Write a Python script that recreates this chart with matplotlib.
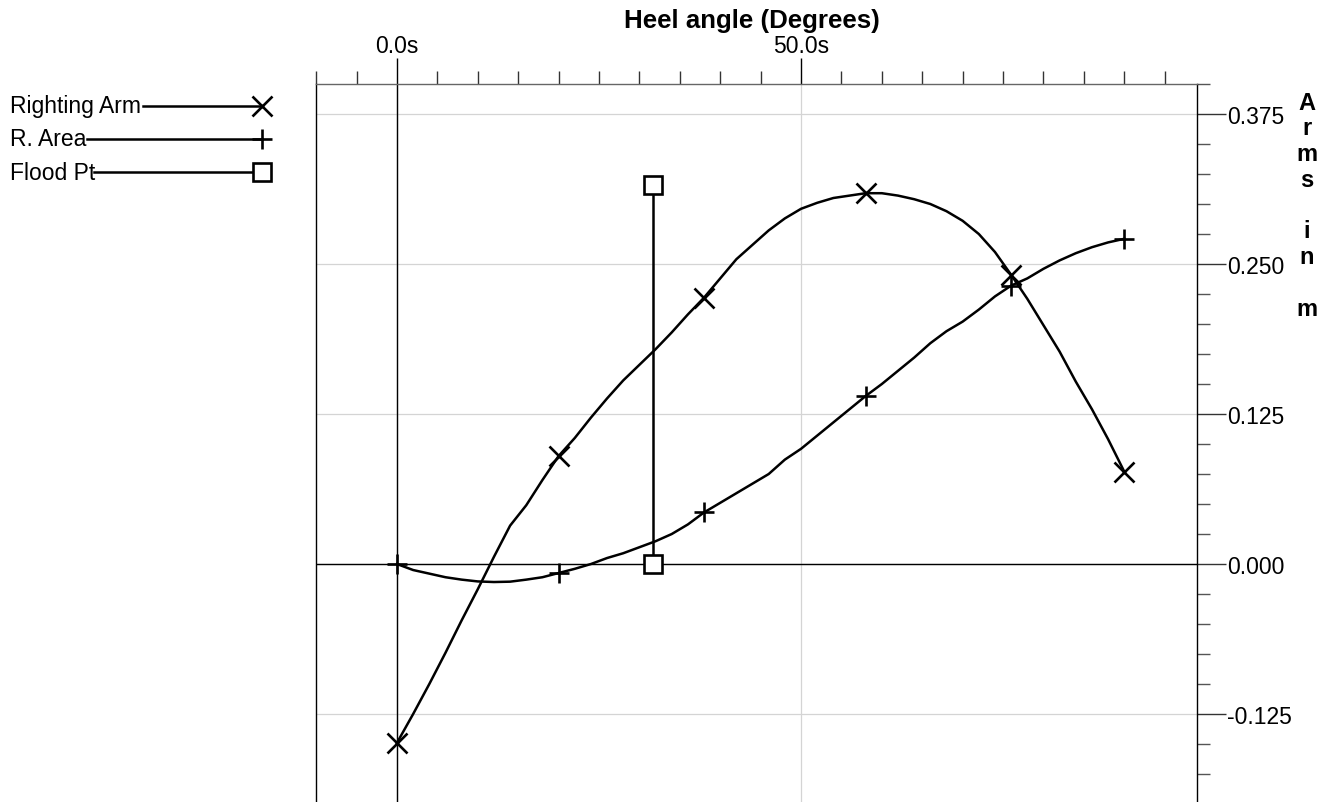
import matplotlib
matplotlib.use("Agg")
import matplotlib.pyplot as plt
from matplotlib.ticker import MultipleLocator, FormatStrFormatter

plt.rcParams['font.family'] = ['Liberation Sans', 'DejaVu Sans']
plt.rcParams['axes.unicode_minus'] = False

# heel angle and curves
heel = [0, 2, 4, 6, 8, 10, 12, 14, 16, 18, 20, 22, 24, 26, 28, 30, 32, 34, 36, 38,
        40, 42, 44, 46, 48, 50, 52, 54, 56, 58, 60, 62, 64, 66, 68, 70, 72, 74, 76,
        78, 80, 82, 84, 86, 88, 90]
righting_arm = [-0.149, -0.125, -0.100, -0.074, -0.047, -0.021, 0.006, 0.032, 0.049,
                0.070, 0.090, 0.105, 0.122, 0.138, 0.153, 0.166, 0.179, 0.193, 0.208,
                0.222, 0.238, 0.254, 0.266, 0.278, 0.288, 0.296, 0.301, 0.305, 0.307,
                0.309, 0.309, 0.307, 0.304, 0.300, 0.294, 0.286, 0.275, 0.260, 0.241,
                0.221, 0.199, 0.177, 0.152, 0.129, 0.104, 0.077]
r_area = [0.000, -0.005, -0.008, -0.011, -0.013, -0.0145, -0.015, -0.0147, -0.013,
          -0.011, -0.0075, -0.004, 0.000, 0.005, 0.009, 0.014, 0.019, 0.025, 0.033,
          0.043, 0.051, 0.059, 0.067, 0.075, 0.087, 0.096, 0.107, 0.118, 0.129, 0.140,
          0.150, 0.161, 0.172, 0.184, 0.194, 0.202, 0.212, 0.223, 0.232, 0.238, 0.246,
          0.253, 0.259, 0.264, 0.268, 0.271]
marker_idx = [0, 10, 19, 29, 38, 45]
flood_x = [31.7, 31.7]
flood_y = [0.0, 0.316]

legend_names = ['Righting Arm', 'R. Area', 'Flood Pt']
ylabel_chars = list('Arms in m')

FS = 16.5
LW = 1.8
W, H = 1334, 803
fig = plt.figure(figsize=(W / 100, H / 100), dpi=100)

ax = fig.add_axes([316 / W, 0, 881 / W, 1 - 85 / H])
ax.set_xlim(-10.02, 99.0)
ax.set_ylim(-0.1983, 0.4)

ax.grid(True, which='major', color='#d4d4d4', lw=0.9, zorder=0)
ax.axhline(0, color='black', lw=1.0, zorder=2)
ax.axvline(0, color='black', lw=1.0, zorder=2)

ax.plot(heel, righting_arm, color='black', lw=LW, marker='x', ms=15, mew=1.9,
        markevery=marker_idx, zorder=3)
ax.plot(heel, r_area, color='black', lw=LW, marker='+', ms=15, mew=1.9,
        markevery=marker_idx, zorder=3)
ax.plot(flood_x, flood_y, color='black', lw=LW, marker='s', ms=13, mew=1.9,
        mfc='white', zorder=4)

ax.xaxis.tick_top()
ax.yaxis.tick_right()
ax.xaxis.set_major_locator(MultipleLocator(50))
ax.xaxis.set_minor_locator(MultipleLocator(5))
ax.xaxis.set_major_formatter(FormatStrFormatter('%.1fs'))
ax.yaxis.set_major_locator(MultipleLocator(0.125))
ax.yaxis.set_minor_locator(MultipleLocator(0.025))
ax.yaxis.set_major_formatter(FormatStrFormatter('%.3f'))

ax.tick_params(axis='x', which='major', length=18.5, width=1.0, color='black',
               pad=1, labelsize=FS)
ax.tick_params(axis='x', which='minor', length=9.4, width=1.0, color='#333333')
ax.tick_params(axis='y', which='major', length=21, width=1.0, color='#333333',
               pad=0.5, labelsize=FS)
ax.tick_params(axis='y', which='minor', length=9.4, width=1.0, color='#555555')

ax.spines['bottom'].set_visible(False)
ax.spines['top'].set_color('#666666')
ax.spines['top'].set_linewidth(1.0)
ax.spines['left'].set_linewidth(1.0)
ax.spines['right'].set_linewidth(1.0)

fig.text(752 / W, 1 - 21 / H, 'Heel angle (Degrees)', ha='center', va='center',
         fontsize=18.6, fontweight='bold')

# overlay in pixel coordinates for the legend and the stacked axis title
ov = fig.add_axes([0, 0, 1, 1], zorder=5)
ov.set_xlim(0, W)
ov.set_ylim(H, 0)
ov.axis('off')
ov.patch.set_alpha(0)

leg_y = [107, 140, 173]
leg_start = [143, 87, 94]
leg_marker = ['x', '+', 's']
leg_ms = [15, 15, 13]
for name, y, x0, m, ms in zip(legend_names, leg_y, leg_start, leg_marker, leg_ms):
    ov.text(10, y, name, ha='left', va='center', fontsize=FS)
    ov.plot([x0, 262], [y, y], color='black', lw=LW)
    ov.plot([262], [y], marker=m, ms=ms, mew=1.9, color='black', mfc='white')

for i, ch in enumerate(ylabel_chars):
    ov.text(1307, 103 + i * 25.8, ch, ha='center', va='center', fontsize=17,
            fontweight='bold')

fig.savefig('out.png', dpi=100)
